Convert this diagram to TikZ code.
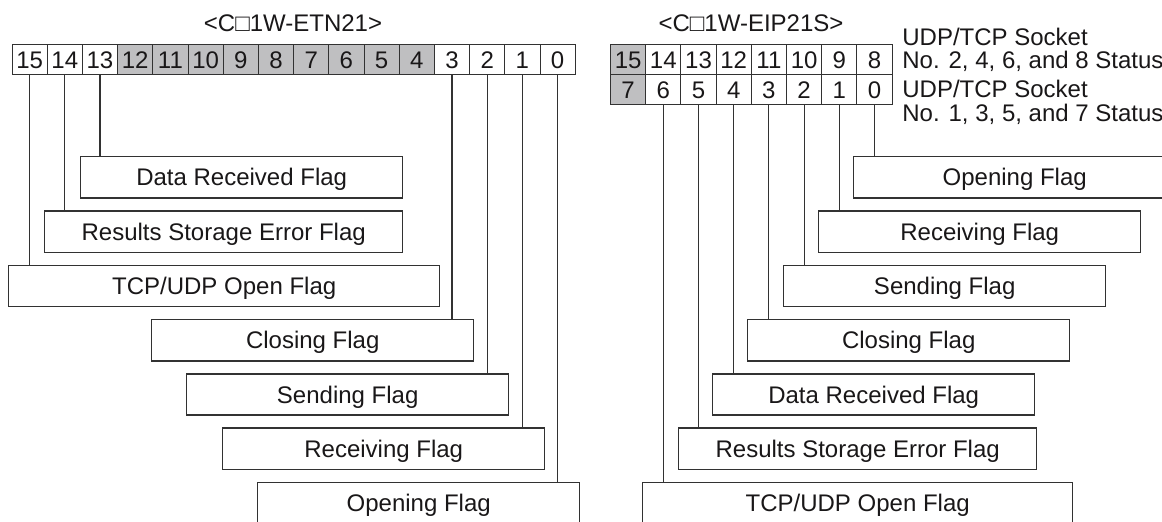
\documentclass[tikz,border=0pt]{standalone}
\usepackage{fontspec}
\setmainfont{Liberation Sans}
\usetikzlibrary{positioning}
\definecolor{ink}{RGB}{25,23,24}
\definecolor{wire}{RGB}{50,50,50}
\definecolor{cellgray}{RGB}{191,191,193}
\tikzset{
  cell/.style={draw=wire, line width=0.5pt, minimum width=17.6pt, minimum height=15pt, inner sep=0pt, text height=8.6pt, text depth=0pt, text=ink},
  hot/.style={fill=cellgray},
  flag/.style={draw=wire, line width=0.7pt, anchor=north west, minimum height=20.65pt, inner sep=0pt, text height=8.6pt, text depth=0pt, text=ink},
  link/.style={draw=wire, line width=0.55pt},
  tcap/.style={inner sep=0pt, text height=8.6pt, text depth=0pt, text=ink},
  note/.style={anchor=base west, inner sep=0pt, text=ink}
}

\begin{document}
\begin{tikzpicture}[x=0.5pt, y=-0.5pt, font=\fontsize{12pt}{14pt}\selectfont]
\useasboundingbox (0,0) rectangle (1162,522);
\clip (0,0) rectangle (1162,522);
% left register
\node[tcap] (ltitle) at (293,23) {<C□1W-ETN21>};
\foreach \i in {15,14,13,3,2,1,0}
  \node[cell] (L\i) at ({29.6+(15-\i)*35.2},60) {\i};
\foreach \i in {12,...,4}
  \node[cell,hot] (L\i) at ({29.6+(15-\i)*35.2},60) {\i};
\foreach \k/\b/\x/\w/\txt in {0/13/80/322/{Data Received Flag}, 1/14/44/358/{Results Storage Error Flag},
    2/15/8/431/{TCP/UDP Open Flag}, 3/3/151/322/{Closing Flag}, 4/2/186/322/{Sending Flag},
    5/1/222/322/{Receiving Flag}, 6/0/257/322/{Opening Flag}}{
  \node[flag, minimum width=\w*0.5pt] (lf\k) at (\x,{156+54.3*\k}) {\txt};
  \draw[link] (L\b.south) -- (L\b.south |- lf\k.north);
}
% right register
\node[tcap] (rtitle) at (751,23) {<C□1W-EIP21S>};
\node[cell,hot] (H15) at (628.1,60) {15};
\foreach \i in {14,...,8}
  \node[cell] (H\i) at ({628.1+(15-\i)*35.2},60) {\i};
\node[cell,hot] (R7) at (628.1,90) {7};
\foreach \i in {6,...,0}
  \node[cell] (R\i) at ({628.1+(7-\i)*35.2},90) {\i};
\node[note] (hi1) at (902,45.1) {UDP/TCP Socket};
\node[note] (hi2) at (902,68.6) {No. 2, 4, 6, and 8 Status};
\node[note] (lo1) at (902,98) {UDP/TCP Socket};
\node[note] (lo2) at (902,121.9) {No. 1, 3, 5, and 7 Status};
\foreach \k/\x/\w/\txt in {0/853/322/{Opening Flag}, 1/818/322/{Receiving Flag}, 2/783/322/{Sending Flag},
    3/747/322/{Closing Flag}, 4/712/322/{Data Received Flag}, 5/678/358/{Results Storage Error Flag},
    6/642/430/{TCP/UDP Open Flag}}{
  \node[flag, minimum width=\w*0.5pt] (rf\k) at (\x,{156+54.3*\k}) {\txt};
  \draw[link] (R\k.south) -- (R\k.south |- rf\k.north);
}
\end{tikzpicture}
\end{document}
